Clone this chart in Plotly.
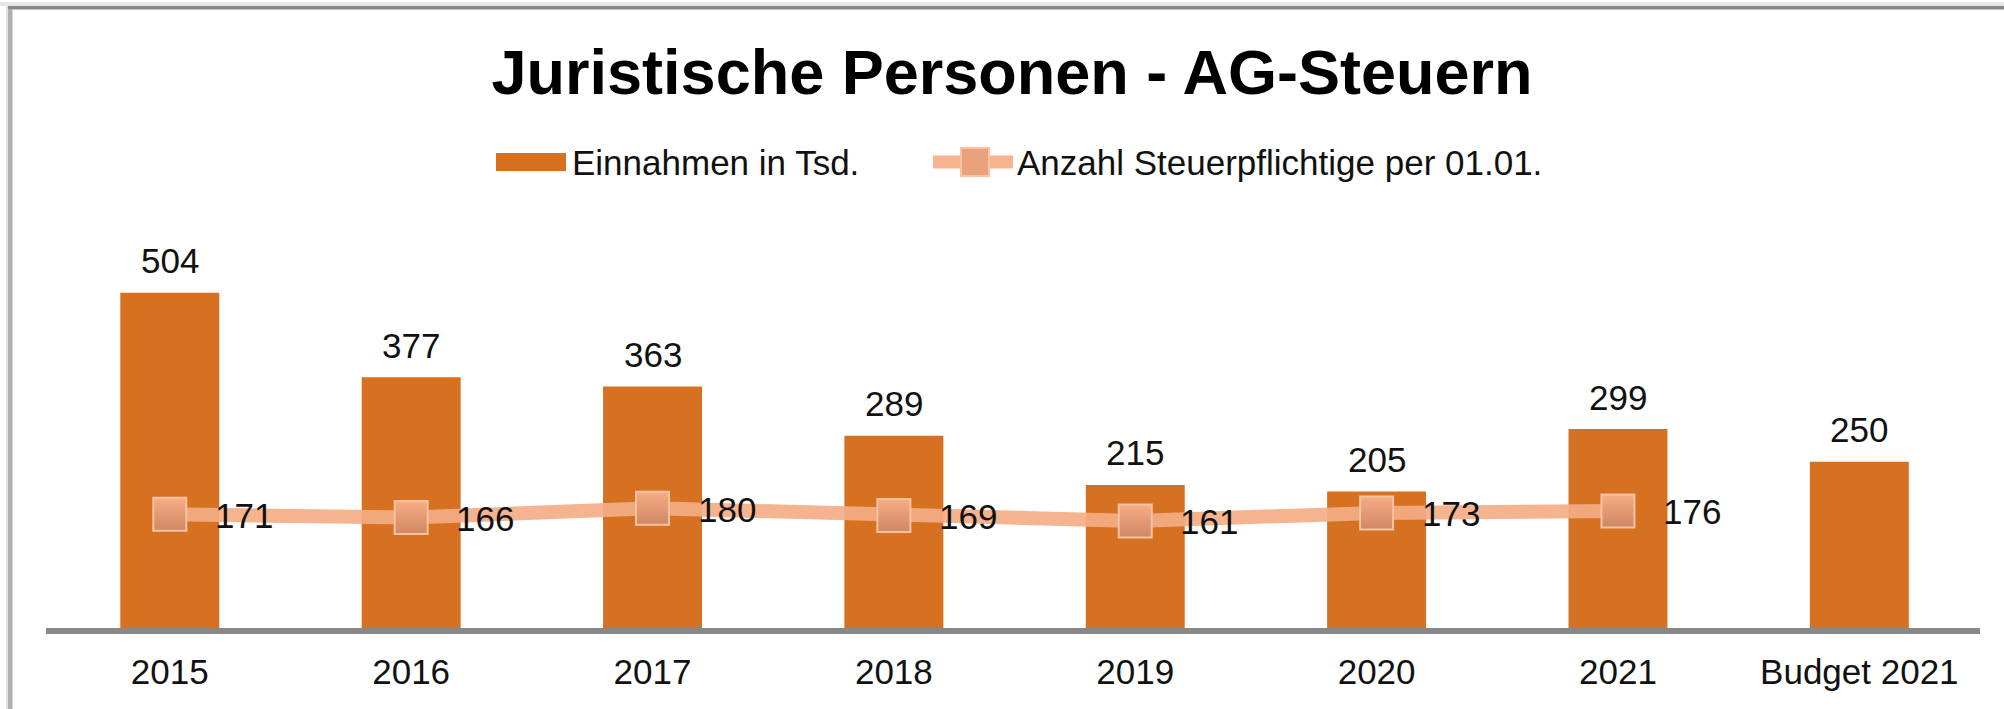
import plotly.graph_objects as go

# ---- data ----
categories = ["2015", "2016", "2017", "2018", "2019", "2020", "2021", "Budget 2021"]
einnahmen = [504, 377, 363, 289, 215, 205, 299, 250]
steuer_cats = ["2015", "2016", "2017", "2018", "2019", "2020", "2021"]
steuerpflichtige = [171, 166, 180, 169, 161, 173, 176]
name_bar = "Einnahmen in Tsd."
name_line = "Anzahl Steuerpflichtige per 01.01."
title_text = "Juristische Personen - AG-Steuern"

# ---- layout geometry (pixels) ----
W, H = 2004, 709
L, R, T, B = 46, 1980, 200, 628
PX_PER_UNIT = 0.6653
CAT_PX = 241.36
FONT = "Liberation Sans, Arial, sans-serif"
TXT = "#111111"
BAR_COLOR = "#d67121"
LINE_COLOR = "rgba(244,172,134,0.92)"


def px_x(p):
    return (p - L) / (R - L)


def px_y(p):
    return (B - p) / (B - T)


fig = go.Figure()

fig.add_trace(go.Bar(
    x=categories, y=einnahmen, name=name_bar,
    marker=dict(color=BAR_COLOR, line=dict(width=0)),
    showlegend=False, hoverinfo="x+y",
))

fig.add_trace(go.Scatter(
    x=steuer_cats, y=steuerpflichtige, name=name_line, mode="lines+markers",
    line=dict(color=LINE_COLOR, width=14),
    marker=dict(symbol="square", size=33, color="#f7ad84",
                gradient=dict(type="vertical", color="#cf8764"),
                line=dict(color="#f8c3a3", width=2)),
    showlegend=False,
))

annotations = []
for i, v in enumerate(einnahmen):
    annotations.append(dict(x=i, y=v, xref="x", yref="y", text=str(v), showarrow=False,
                            yanchor="middle", xanchor="center", yshift=32,
                            font=dict(family=FONT, size=35, color=TXT)))
for c, v in zip(steuer_cats, steuerpflichtige):
    i = categories.index(c)
    annotations.append(dict(x=i, y=v, xref="x", yref="y", text=str(v), showarrow=False,
                            yanchor="middle", xanchor="left", xshift=43, yshift=-1,
                            font=dict(family=FONT, size=35, color=TXT)))

# legend (manual)
LEG_Y = 162
annotations.append(dict(x=px_x(570), y=px_y(LEG_Y), xref="paper", yref="paper", text=name_bar,
                        showarrow=False, xanchor="left", yanchor="middle",
                        font=dict(family=FONT, size=35, color=TXT)))
annotations.append(dict(x=px_x(1015), y=px_y(LEG_Y), xref="paper", yref="paper", text=name_line,
                        showarrow=False, xanchor="left", yanchor="middle",
                        font=dict(family=FONT, size=35, color=TXT)))

shapes = [
    # chart frame
    dict(type="rect", xref="paper", yref="paper", x0=px_x(0), x1=px_x(W), y0=px_y(2), y1=px_y(6),
         fillcolor="#e6e6e6", line=dict(width=0), layer="above"),
    dict(type="rect", xref="paper", yref="paper", x0=px_x(7), x1=px_x(W), y0=px_y(6), y1=px_y(9.5),
         fillcolor="#888888", line=dict(width=0), layer="above"),
    dict(type="rect", xref="paper", yref="paper", x0=px_x(6), x1=px_x(8), y0=px_y(H), y1=px_y(6),
         fillcolor="#e0e0e0", line=dict(width=0), layer="above"),
    dict(type="rect", xref="paper", yref="paper", x0=px_x(8), x1=px_x(12.5), y0=px_y(H), y1=px_y(9),
         fillcolor="#b0b0b0", line=dict(width=0), layer="above"),
    # legend symbols
    dict(type="rect", xref="paper", yref="paper", x0=px_x(496), x1=px_x(566), y0=px_y(LEG_Y + 9), y1=px_y(LEG_Y - 9),
         fillcolor=BAR_COLOR, line=dict(width=0)),
    dict(type="line", xref="paper", yref="paper", x0=px_x(933), x1=px_x(1013), y0=px_y(LEG_Y), y1=px_y(LEG_Y),
         line=dict(color=LINE_COLOR, width=13)),
    dict(type="rect", xref="paper", yref="paper", x0=px_x(961), x1=px_x(989), y0=px_y(LEG_Y + 14), y1=px_y(LEG_Y - 14),
         fillcolor="#e9a27c", line=dict(color="#f8c3a3", width=2)),
]

n = len(categories)
x_hi = n - 0.5
x_lo = x_hi - (R - L) / CAT_PX

fig.update_layout(
    width=W, height=H,
    margin=dict(l=L, r=W - R, t=T, b=H - B, pad=0),
    paper_bgcolor="white", plot_bgcolor="white",
    title=dict(text=title_text, x=0.505, xanchor="center", xref="container",
               y=1 - 72 / H, yanchor="middle", yref="container",
               font=dict(family=FONT, size=63, color="#000000", weight="bold")),
    bargap=0.59,
    showlegend=False,
    xaxis=dict(type="category", categoryorder="array", categoryarray=categories,
               range=[x_lo, x_hi],
               showline=True, linecolor="#888888", linewidth=6, ticks="", showgrid=False,
               tickfont=dict(family=FONT, size=35, color=TXT), ticklabelstandoff=8,
               automargin=False, fixedrange=True),
    yaxis=dict(range=[0, (B - T) / PX_PER_UNIT], visible=False, showgrid=False, zeroline=False,
               fixedrange=True),
    annotations=annotations,
    shapes=shapes,
)

fig.write_html("out.html", config={"displayModeBar": False},
               post_script="document.body.style.margin='0';document.body.style.overflow='hidden';")
